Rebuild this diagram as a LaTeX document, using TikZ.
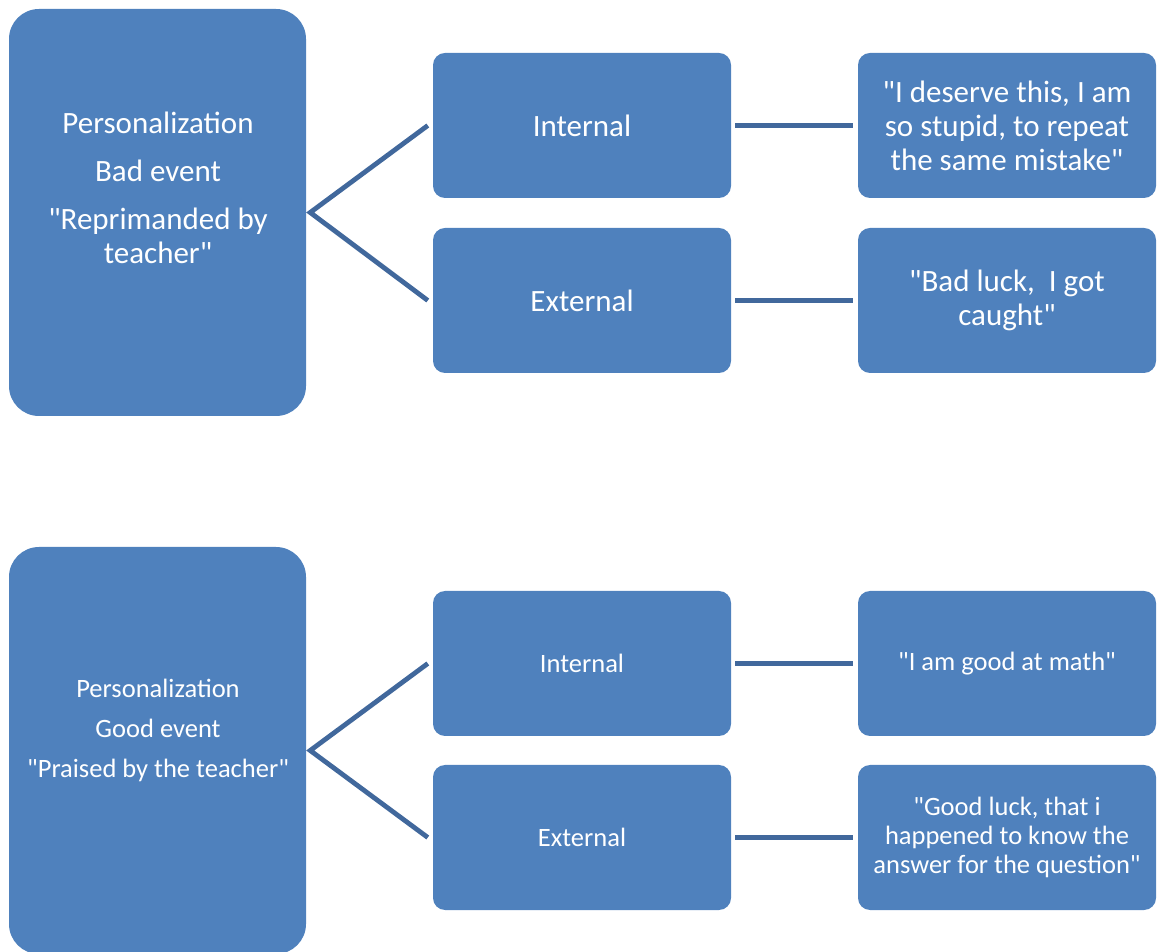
\documentclass[tikz,border=0pt]{standalone}
\usepackage{fontspec}
\setmainfont{Carlito}[Ligatures=TeXOff]
\definecolor{boxblue}{HTML}{4F81BD}
\definecolor{linkblue}{HTML}{41689C}
\begin{document}
\begin{tikzpicture}[x=1pt,y=1pt,
  bigbox/.style={fill=boxblue, rounded corners=30pt, minimum width=297pt, minimum height=407pt, inner sep=0pt},
  smallbox/.style={fill=boxblue, rounded corners=12pt, minimum width=298pt, minimum height=145pt, inner sep=0pt, text=white, align=center},
  caption/.style={text=white, align=center, inner sep=0pt},
  link/.style={draw=linkblue, line width=4.8pt},
  bigfont/.style={font=\fontsize{31}{34}\selectfont},
  smallfont/.style={font=\fontsize{26.5}{29}\selectfont}]
\useasboundingbox (0,0) rectangle (1157,951);
\clip (0,0) rectangle (1157,951);

% ---- bad event ----
\node[bigbox] (big1) at (157.5,738.5) {};
\node[caption, bigfont] (cap1) at (158,763) {Personalization\\[14pt]Bad event\\[14pt]"Reprimanded by\\teacher"};
\node[smallbox, bigfont] (int1) at (582,825.5) {Internal};
\node[smallbox, bigfont] (ext1) at (582,650.5) {External};
\node[smallbox, bigfont] (res1) at (1007,825.5) {"I deserve this, I am\\so stupid, to repeat\\the same mistake"};
\node[smallbox, bigfont] (res2) at (1007,650.5) {"Bad luck,\ \ I got\\caught"};

\coordinate (apex1) at ([xshift=4pt]big1.east);
\draw[link] ([xshift=-5pt]int1.west) -- (apex1) -- ([xshift=-5pt]ext1.west);
\draw[link] ([xshift=4pt]int1.east) -- ([xshift=-5pt]res1.west);
\draw[link] ([xshift=4pt]ext1.east) -- ([xshift=-5pt]res2.west);

% ---- good event ----
\node[bigbox] (big2) at (157.5,200.5) {};
\node[caption, smallfont] (cap2) at (158,221) {Personalization\\[11pt]Good event\\[11pt]"Praised by the teacher"};
\node[smallbox, smallfont] (int2) at (582,287.5) {Internal};
\node[smallbox, smallfont] (ext2) at (582,113.5) {External};
\node[smallbox, smallfont] (res3) at (1007,287.5) {"I am good at math"};
\node[smallbox, smallfont] (res4) at (1007,113.5) {"Good luck, that i\\happened to know the\\answer for the question"};

\coordinate (apex2) at ([xshift=4pt]big2.east);
\draw[link] ([xshift=-5pt]int2.west) -- (apex2) -- ([xshift=-5pt]ext2.west);
\draw[link] ([xshift=4pt]int2.east) -- ([xshift=-5pt]res3.west);
\draw[link] ([xshift=4pt]ext2.east) -- ([xshift=-5pt]res4.west);
\end{tikzpicture}
\end{document}
